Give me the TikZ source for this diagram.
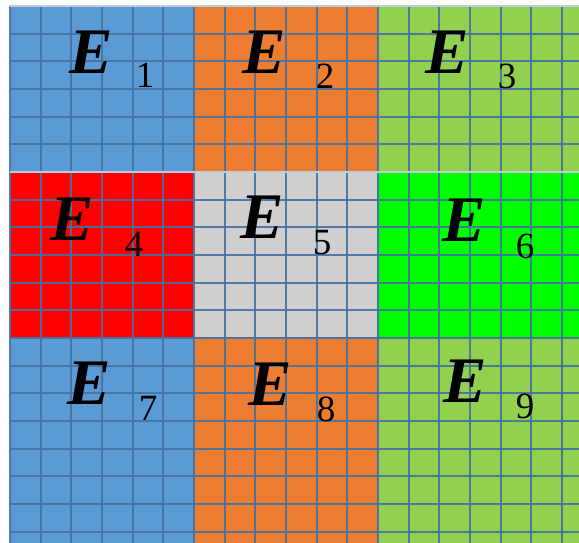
\documentclass[tikz,border=0pt]{standalone}
\usepackage{fontspec}
\setmainfont{Liberation Serif}
\usepackage{tikz}

\definecolor{blockblue}{RGB}{91,155,213}
\definecolor{blockorange}{RGB}{237,125,49}
\definecolor{blockgreen}{RGB}{146,208,80}
\definecolor{blockred}{RGB}{255,0,0}
\definecolor{blockgray}{RGB}{208,206,206}
\definecolor{blocklime}{RGB}{0,255,0}
\definecolor{gridblue}{RGB}{68,114,160}
\definecolor{edgelight}{RGB}{190,204,220}

\tikzset{
	cellline/.style={draw=gridblue, draw opacity=0.9, line width=1.7pt}
}
\tikzset{
	blockedge/.style={draw=edgelight, line width=1.6pt}
}
\tikzset{
	cellblock/.pic={
			\fill[#1] (0,0) rectangle (184,166);
			\draw[cellline]
			(0,0) -- (0,166)
			(30.67,0) -- (30.67,166)
			(61.33,0) -- (61.33,166)
			(92,0) -- (92,166)
			(122.67,0) -- (122.67,166)
			(153.33,0) -- (153.33,166)
			(184,0) -- (184,166);
			\draw[cellline]
			(0,0) -- (184,0)
			(0,27.67) -- (184,27.67)
			(0,55.33) -- (184,55.33)
			(0,83) -- (184,83)
			(0,110.67) -- (184,110.67)
			(0,138.33) -- (184,138.33)
			(0,166) -- (184,166);
		}
}
\tikzset{
	blocklabel/.style={font=\fontsize{65}{70}\selectfont\bfseries\itshape, inner sep=0pt}
}
\tikzset{
	blockindex/.style={font=\fontsize{37}{40}\selectfont, inner sep=0pt}
}

\begin{document}
\begin{tikzpicture}[x=1pt, y=-1pt]

			\useasboundingbox (0,0) rectangle (579,543);
			\clip (0,0) rectangle (579,543);

			\begin{scope}

				\coordinate (bA) at (10,6);
				\coordinate (bB) at (194,6);
				\coordinate (bC) at (378,6);
				\coordinate (bD) at (10,172);
				\coordinate (bE) at (194,172);
				\coordinate (bF) at (378,172);
				\coordinate (bG) at (10,338);
				\coordinate (bH) at (194,338);
				\coordinate (bI) at (378,338);

				\pic at (bA) {cellblock={blockblue}};
				\pic at (bB) {cellblock={blockorange}};
				\pic at (bC) {cellblock={blockgreen}};
				\pic at (562,6) {cellblock={blockgreen}};
				\pic at (bD) {cellblock={blockred}};
				\pic at (bE) {cellblock={blockgray}};
				\pic at (bF) {cellblock={blocklime}};
				\pic at (562,172) {cellblock={blocklime}};
				\pic at (bG) {cellblock={blockblue}};
				\pic at (bH) {cellblock={blockorange}};
				\pic at (bI) {cellblock={blockgreen}};
				\pic at (562,338) {cellblock={blockgreen}};
				\pic at (10,504) {cellblock={blockblue}};
				\pic at (194,504) {cellblock={blockorange}};
				\pic at (378,504) {cellblock={blockgreen}};
				\pic at (562,504) {cellblock={blockgreen}};

				\draw[blockedge] (bA) -- ++(569,0);
				\draw[blockedge] (bD) -- ++(569,0);

			\end{scope}

			\node[blocklabel] (e1) at (91,52) {E};
			\node[blocklabel] (e2) at (264,52) {E};
			\node[blocklabel] (e3) at (447,52) {E};
			\node[blocklabel] (e4) at (72,219) {E};
			\node[blocklabel] (e5) at (262,217) {E};
			\node[blocklabel] (e6) at (464,220) {E};
			\node[blocklabel] (e7) at (89,383) {E};
			\node[blocklabel] (e8) at (270,384) {E};
			\node[blocklabel] (e9) at (465,381) {E};

			\node[blockindex] (n1) at (145,75) {1};
			\node[blockindex] (n2) at (325,76) {2};
			\node[blockindex] (n3) at (507,76) {3};
			\node[blockindex] (n4) at (134,244) {4};
			\node[blockindex] (n5) at (322,243) {5};
			\node[blockindex] (n6) at (525,246) {6};
			\node[blockindex] (n7) at (148,408) {7};
			\node[blockindex] (n8) at (326,409) {8};
			\node[blockindex] (n9) at (525,406) {9};

		\end{tikzpicture}
\end{document}
